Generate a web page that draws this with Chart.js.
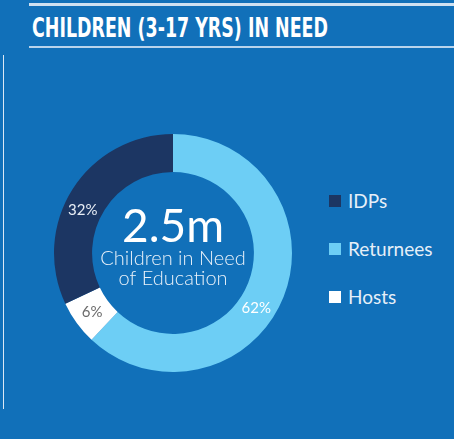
<!DOCTYPE html>
<html>
<head>
<meta charset="utf-8">
<script src="https://cdn.jsdelivr.net/npm/chart.js@4"></script>
<style>
    html, body { margin: 0; padding: 0; }
    body { width: 454px; height: 439px; background: #1170b9; position: relative; overflow: hidden; font-family: Lato, "Open Sans", sans-serif; }
    .rule-top { position: absolute; left: 29px; top: 3px; width: 425px; height: 3px; background: #cfe1f1; }
    .rule-title { position: absolute; left: 29px; top: 46px; width: 425px; height: 2px; background: #b9d4ec; }
    .rule-left { position: absolute; left: 3px; top: 55px; width: 1px; height: 354px; background: #dbe8f5; }
    #title { position: absolute; left: 32px; top: 13px; color: #fff; font-family: "Liberation Sans Narrow", "DejaVu Sans Condensed", sans-serif; font-weight: bold; font-size: 26px; white-space: nowrap; transform-origin: left top; }
    #chart-box { position: absolute; left: 43px; top: 123px; width: 260px; height: 260px; }
    #legend { position: absolute; left: 329px; top: 190px; }
    .legend-item { position: absolute; left: 0; height: 22px; white-space: nowrap; color: #e6eff8; font-size: 19px; line-height: 22px; }
    .legend-item span.box { position: absolute; left: 0; top: 5px; width: 12px; height: 12px; }
    .legend-item span.text { position: absolute; left: 19px; top: 0; }
</style>
</head>
<body>
<div class="rule-top"></div>
<div id="title">CHILDREN (3-17 YRS) IN NEED</div>
<div class="rule-title"></div>
<div class="rule-left"></div>
<div id="chart-box"><canvas id="donut"></canvas></div>
<div id="legend"></div>

<script>
// Data, clockwise from 12 o'clock
const groups = ["Returnees", "Hosts", "IDPs"];
const shares = [62, 6, 32];
const sliceColors = ["#6dcef5", "#ffffff", "#1c3663"];
const labelColors = ["#ffffff", "#6b6b6b", "#e8eef6"];
const legendOrder = ["IDPs", "Returnees", "Hosts"];
const centerValue = "2.5m";
const centerCaption = ["Children in Need", "of Education"];

// Percent labels on the ring + the big number in the hole
const ringText = {
    id: "ringText",
    afterDatasetsDraw(chart, args, opts) {
        const ctx = chart.ctx;
        const meta = chart.getDatasetMeta(0);
        ctx.save();
        ctx.textAlign = "center";
        ctx.textBaseline = "middle";
        ctx.font = "15px Lato";
        meta.data.forEach((arc, i) => {
            const mid = (arc.startAngle + arc.endAngle) / 2 + (opts.shift[i] || 0) * Math.PI / 180;
            const r = (arc.innerRadius + arc.outerRadius) / 2;
            ctx.fillStyle = labelColors[i];
            ctx.fillText(shares[i] + "%", arc.x + Math.cos(mid) * r, arc.y + Math.sin(mid) * r);
        });

        const cx = meta.data[0].x, cy = meta.data[0].y;
        ctx.textBaseline = "alphabetic";
        ctx.fillStyle = "#ffffff";
        ctx.font = "46px Lato";
        ctx.fillText(centerValue, cx, cy - 11);
        ctx.fillStyle = "#e9f1f9";
        ctx.font = "300 20px Lato";
        ctx.fillText(centerCaption[0], cx, cy + 12);
        ctx.fillText(centerCaption[1], cx, cy + 32);
        ctx.restore();
    }
};

document.addEventListener("DOMContentLoaded", () => {
    // Fit the title to the width it has in the reference
    const title = document.getElementById("title");
    const w = title.getBoundingClientRect().width;
    title.style.transform = `scaleX(${296 / w})`;

    buildLegend();
    initChart();

    function buildLegend() {
        const legend = document.getElementById("legend");
        legendOrder.forEach((name, i) => {
            const idx = groups.indexOf(name);
            const item = document.createElement("div");
            item.className = "legend-item";
            item.style.top = (i * 48) + "px";
            item.innerHTML = `<span class="box" style="background:${sliceColors[idx]}"></span><span class="text">${name}</span>`;
            legend.appendChild(item);
        });
    }

    function initChart() {
        const ctx = document.getElementById("donut").getContext("2d");
        window.myChart = new Chart(ctx, {
            type: "doughnut",
            data: {
                labels: groups,
                datasets: [{
                    data: shares,
                    backgroundColor: sliceColors,
                    borderWidth: 0,
                }],
            },
            options: {
                responsive: true,
                maintainAspectRatio: false,
                animation: false,
                cutout: "68%",
                layout: { padding: 11 },
                plugins: {
                    legend: { display: false },
                    tooltip: { enabled: false },
                    ringText: { shift: [12, 0, -7] },
                },
            },
            plugins: [ringText],
        });
    }
});
</script>
</body>
</html>
